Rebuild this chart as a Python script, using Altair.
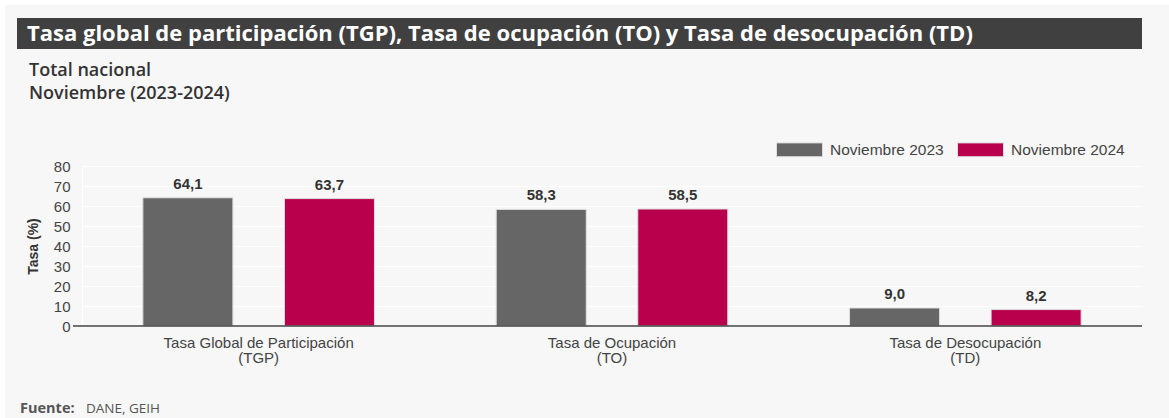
import altair as alt
import pandas as pd

# ---- data ----
categories = ["Tasa Global de Participación", "Tasa de Ocupación", "Tasa de Desocupación"]
abbrevs = ["(TGP)", "(TO)", "(TD)"]
series = ["Noviembre 2023", "Noviembre 2024"]
values_2023 = [64.1, 58.3, 9.0]
values_2024 = [63.7, 58.5, 8.2]
colors = ["#666666", "#b8004c"]

title_text = "Tasa global de participación (TGP), Tasa de ocupación (TO) y Tasa de desocupación (TD)"
subtitle1 = "Total nacional"
subtitle2 = "Noviembre (2023-2024)"
source_bold = "Fuente:"
source_text = "DANE, GEIH"
y_title = "Tasa (%)"

rows = []
for c, a, v23, v24 in zip(categories, abbrevs, values_2023, values_2024):
    cat = c + "|" + a
    rows.append({"cat": cat, "serie": series[0], "valor": v23})
    rows.append({"cat": cat, "serie": series[1], "valor": v24})
df = pd.DataFrame(rows)
cat_order = [c + "|" + a for c, a in zip(categories, abbrevs)]

W, H = 1060, 160
one = pd.DataFrame({"a": [0]})

SANS = "Liberation Sans"
OPEN = "Open Sans"

white_top = alt.Chart(one).mark_rect(color="#ffffff").encode(
    x=alt.value(-82), x2=alt.value(W + 27), y=alt.value(-166), y2=alt.value(-161)
)
white_left = alt.Chart(one).mark_rect(color="#ffffff").encode(
    x=alt.value(-82), x2=alt.value(-77), y=alt.value(-166), y2=alt.value(H + 92)
)
title_bar = alt.Chart(one).mark_rect(color="#404040").encode(
    x=alt.value(-65), x2=alt.value(W), y=alt.value(-148), y2=alt.value(-117)
)
title = alt.Chart(one).mark_text(
    text=title_text, align="left", baseline="alphabetic", font=OPEN,
    fontSize=22, fontWeight="bold", color="#ffffff"
).encode(x=alt.value(-55), y=alt.value(-125))
sub1 = alt.Chart(one).mark_text(
    text=subtitle1, align="left", baseline="alphabetic", font=OPEN,
    fontSize=18, fontWeight=600, color="#333333"
).encode(x=alt.value(-53), y=alt.value(-90))
sub2 = alt.Chart(one).mark_text(
    text=subtitle2, align="left", baseline="alphabetic", font=OPEN,
    fontSize=18, fontWeight=600, color="#333333"
).encode(x=alt.value(-53), y=alt.value(-67))
src1 = alt.Chart(one).mark_text(
    text=source_bold, align="left", baseline="alphabetic", font=OPEN,
    fontSize=14.5, fontWeight="bold", color="#555555"
).encode(x=alt.value(-62), y=alt.value(247))
src2 = alt.Chart(one).mark_text(
    text=source_text, align="left", baseline="alphabetic", font=OPEN,
    fontSize=13.5, color="#555555"
).encode(x=alt.value(4), y=alt.value(247))

x_enc = alt.X(
    "cat:N", sort=cat_order, title=None,
    scale=alt.Scale(paddingInner=0, paddingOuter=0),
    axis=alt.Axis(
        labelExpr="split(datum.value, '|')", labelAngle=0, labelFont=SANS,
        labelFontSize=15, labelColor="#444444", labelPadding=9, labelLineHeight=15,
        labelLimit=400, ticks=False, domain=False, grid=False,
    ),
)
xoff_enc = alt.XOffset(
    "serie:N", sort=series, scale=alt.Scale(paddingInner=0.364, paddingOuter=0.43)
)
y_enc = alt.Y(
    "valor:Q", scale=alt.Scale(domain=[0, 80], nice=False),
    axis=alt.Axis(
        values=list(range(0, 81, 10)), title=y_title, titleFont=SANS, titleFontSize=14,
        titleFontWeight="bold", titleColor="#333333", titleAngle=-90, titleX=-49,
        titleY=H / 2, titleAlign="center", titleBaseline="middle",
        labelFont=SANS, labelFontSize=15, labelColor="#444444", labelPadding=12,
        ticks=False, domain=True, domainColor="#ffffff", gridColor="#ffffff",
        gridWidth=1, grid=True,
    ),
)

base = alt.Chart(df)
bars = base.mark_bar(stroke="#dedede", strokeWidth=1).encode(
    x=x_enc, xOffset=xoff_enc, y=y_enc,
    color=alt.Color(
        "serie:N", sort=series, scale=alt.Scale(domain=series, range=colors),
        legend=alt.Legend(
            title=None, orient="none", legendX=694, legendY=-40, direction="horizontal",
            symbolType="M-1,-0.3L1,-0.3L1,0.3L-1,0.3Z", symbolSize=2116,
            symbolStrokeColor="#dddddd", symbolStrokeWidth=1, symbolOpacity=1,
            labelFont=SANS, labelFontSize=15.5, labelColor="#444444", labelOffset=7,
            columnPadding=11, padding=0,
        ),
    ),
)
labels = base.mark_text(
    font=SANS, fontSize=15, fontWeight="bold", color="#333333", baseline="alphabetic", dy=-9
).transform_calculate(
    lbl="replace(format(datum.valor, '.1f'), '.', ',')"
).encode(x=x_enc, xOffset=xoff_enc, y=y_enc, text="lbl:N")

baseline = alt.Chart(one).mark_rule(color="#444444", strokeWidth=1.5).encode(
    x=alt.value(-9), x2=alt.value(W), y=alt.value(H)
)

chart = alt.layer(
    white_top, white_left, title_bar, title, sub1, sub2, src1, src2, bars, labels, baseline
).properties(
    width=W, height=H,
    autosize=alt.AutoSizeParams(type="none"),
    padding={"left": 82, "top": 166, "right": 27, "bottom": 92},
    background="#f7f7f7",
).configure_view(stroke=None, fill=None)

chart.save("out.html", embed_options={"renderer": "svg", "actions": False})
